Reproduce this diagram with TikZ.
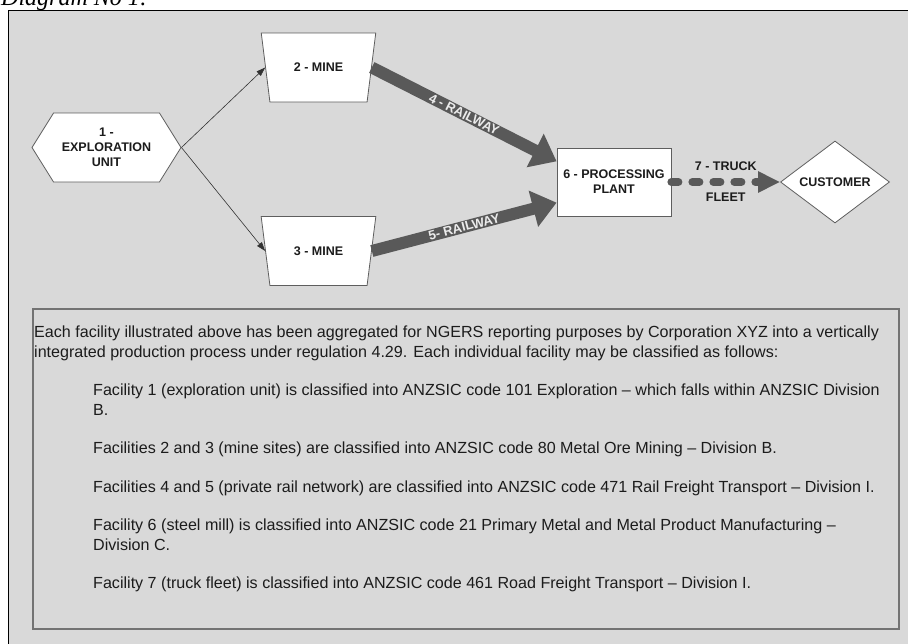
\documentclass[tikz,border=0pt]{standalone}
\usepackage{fontspec}
\setmainfont{Liberation Sans}
\newfontfamily\serifit{Liberation Serif}
\usetikzlibrary{arrows.meta,positioning,calc,shapes.geometric,shapes.symbols}
\definecolor{panel}{HTML}{D9D9D9}
\definecolor{flow}{HTML}{595959}
\definecolor{edge}{HTML}{5E5E5E}
\definecolor{ink}{HTML}{1C1C1C}
\tikzset{
  >={Triangle[length=9pt,width=6pt]},
  lbl/.style={font=\fontsize{12.5}{15}\selectfont\bfseries,text=ink,align=center},
  fac/.style={lbl,draw=edge,fill=white,line width=0.8pt},
  mine/.style={fac,trapezium,shape border rotate=180,trapezium left angle=72,
    trapezium right angle=72,trapezium stretches=true,minimum width=115pt,minimum height=69pt},
  link/.style={->,draw=black!80,line width=0.6pt},
  rail/.style={draw=flow,line width=12pt,-{Triangle[length=24pt,width=36pt]}},
  railtxt/.style={font=\fontsize{13}{15}\selectfont\bfseries,text=white!92!black,sloped,inner sep=0pt},
  truck/.style={draw=flow,line width=8pt,line cap=round,dash pattern=on 7pt off 14pt,
    -{Triangle[length=22pt,width=20pt]}},
  para/.style={anchor=base west,font=\fontsize{16.1}{19.2}\selectfont,text=ink,align=left,inner sep=0pt},
}
\begin{document}
\begin{tikzpicture}[x=1pt,y=-1pt]
  \useasboundingbox (0,0) rectangle (908,643);
  % heading and panel
  \node[anchor=base west,inner sep=0pt,font=\serifit\itshape\fontsize{24}{28}\selectfont] (title) at (1,5) {Diagram No 1:};
  \draw[fill=panel,draw=black,line width=0.8pt] (8,10) rectangle (920,660);

  % facilities
  \node[fac,signal,signal to=west and east,signal pointer angle=116,
    minimum width=149pt,minimum height=69pt,inner sep=2pt] (explore) at (106.5,147.5) {1 -\\EXPLORATION\\UNIT};
  \node[mine] (mineA) at (318.5,67.5) {2 - MINE};
  \node[mine] (mineB) at (318.5,251) {3 - MINE};
  \node[fac,minimum width=114pt,minimum height=68pt] (plant) at (614,182) {6 - PROCESSING\\PLANT};
  \node[fac,diamond,aspect=1.33,inner sep=0pt,minimum width=109pt,minimum height=82pt] (customer) at (835,182) {CUSTOMER};

  % flows
  \draw[link] (explore.east) -- (mineA.west);
  \draw[link] (explore.east) -- (mineB.west);
  \draw[rail] (mineA.east) -- ($(plant.north west)!0.2!(plant.south west)$)
    node[midway,railtxt] (railA) {4 - RAILWAY};
  \draw[rail] (mineB.east) -- ($(plant.north west)!0.8!(plant.south west)$)
    node[midway,railtxt] (railB) {5- RAILWAY};
  \draw[truck] (plant.east) -- (customer.west)
    node[midway,lbl,yshift=16pt] (truckA) {7 - TRUCK}
    node[midway,lbl,yshift=-15pt] (truckB) {FLEET};

  % notes
  \node[draw=black!55,fill=panel,line width=1.5pt,anchor=north west,
    minimum width=866pt,minimum height=320pt] (notes) at (32,308) {};
  \node[para] (intro) at (34,357) {Each facility illustrated above has been aggregated for NGERS reporting purposes by Corporation XYZ into a vertically\\
    integrated production process under regulation 4.29. Each individual facility may be classified as follows:};
  \node[para] (noteA) at (93,415) {Facility 1 (exploration unit) is classified into ANZSIC code 101 Exploration -- which falls within ANZSIC Division\\B.};
  \node[para] (noteB) at (93,453) {Facilities 2 and 3 (mine sites) are classified into ANZSIC code 80 Metal Ore Mining -- Division B.};
  \node[para] (noteC) at (93,492) {Facilities 4 and 5 (private rail network) are classified into ANZSIC code 471 Rail Freight Transport -- Division I.};
  \node[para] (noteD) at (93,550) {Facility 6 (steel mill) is classified into ANZSIC code 21 Primary Metal and Metal Product Manufacturing --\\Division C.};
  \node[para] (noteE) at (93,588) {Facility 7 (truck fleet) is classified into ANZSIC code 461 Road Freight Transport -- Division I.};
\end{tikzpicture}
\end{document}
